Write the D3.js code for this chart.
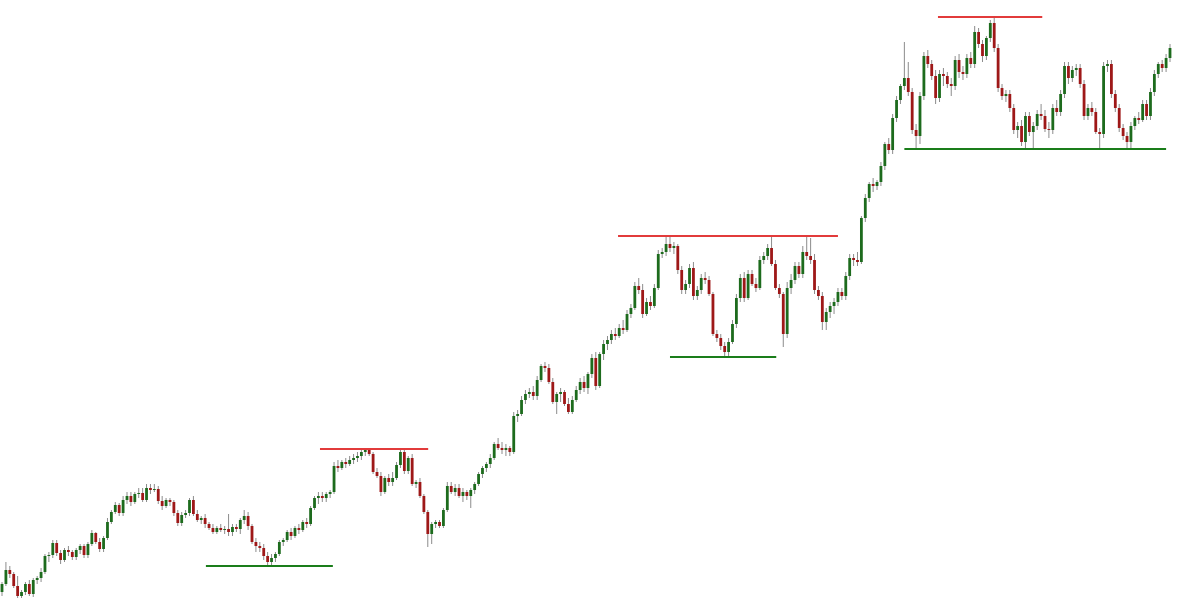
<!DOCTYPE html>
<html>
<head>
<meta charset="utf-8">
<script src="https://cdn.jsdelivr.net/npm/d3@7"></script>
<style>
  html, body { margin: 0; padding: 0; background: #fff; }
  .wick { stroke: #8c8c8c; stroke-width: 1; }
</style>
</head>
<body>
<div id="chart"></div>
<script>
/////////////////////////////////////////////////////////
// price data (one entry per candle)
/////////////////////////////////////////////////////////
var open = [
  8,16,30,26,14,4,8,16,6,20,
  22,28,44,45,57,47,40,50,48,43,
  50,54,45,56,67,58,51,62,78,88,
  95,87,100,104,98,106,107,100,112,110,
  111,99,94,100,98,87,77,85,87,100,
  86,80,82,76,72,68,72,70,71,68,
  73,71,80,84,74,58,54,52,44,38,
  42,46,58,60,68,64,72,70,78,76,
  92,102,104,102,106,108,134,132,138,136,
  140,142,144,148,150,146,128,124,108,122,
  118,122,135,148,129,142,116,118,104,88,
  66,76,78,74,90,114,108,112,104,108,
  104,110,116,126,132,136,142,156,152,150,
  152,148,184,186,200,206,208,204,220,234,
  232,218,198,206,208,196,188,200,210,218,
  212,226,242,214,246,256,260,266,264,272,
  270,286,292,314,310,286,298,294,312,346,
  348,356,352,354,330,310,316,332,304,310,
  322,320,306,266,262,254,248,258,276,302,
  322,302,326,316,312,340,344,352,336,312,
  306,266,312,320,334,326,348,344,340,310,
  304,278,288,294,298,308,304,324,342,340,
  338,382,402,416,414,418,434,456,450,482,
  500,514,522,508,470,464,504,544,536,524,
  502,526,524,516,514,540,528,526,542,536,
  568,556,544,562,577,552,512,504,506,492,
  470,474,458,484,468,474,486,484,471,470,
  492,488,506,534,522,530,532,516,484,492,
  488,468,466,534,536,506,492,472,464,458,
  474,482,480,496,484,508,526,536,532,542
]

var high = [
  18,38,34,28,24,10,18,20,22,24,
  32,46,48,60,60,50,52,54,50,52,
  56,56,58,70,68,62,64,82,90,98,
  97,104,108,108,108,112,112,116,116,116,
  114,104,102,102,100,90,88,90,102,104,
  90,84,86,78,76,74,76,74,86,76,
  76,82,90,88,76,62,58,56,48,46,
  48,60,62,70,72,74,76,80,82,94,
  104,108,108,108,110,138,140,140,142,144,
  146,148,150,151,151,148,132,128,124,126,
  128,138,151,151,144,146,120,122,106,90,
  78,80,80,92,118,118,116,116,112,110,
  112,118,128,134,138,146,158,162,158,156,
  154,188,190,204,210,212,214,224,236,238,
  236,222,208,212,210,202,204,214,222,224,
  228,246,248,248,260,264,270,272,276,280,
  290,296,318,322,316,302,304,316,350,352,
  364,364,358,356,334,320,336,338,314,326,
  328,324,308,270,266,258,262,280,306,326,
  328,330,330,322,344,348,356,364,340,316,
  308,318,326,338,338,354,364,362,346,314,
  308,292,298,302,312,312,328,346,346,348,
  384,406,418,422,420,438,458,462,486,504,
  516,558,538,512,476,508,548,550,540,530,
  530,532,528,522,544,546,534,546,548,574,
  572,560,564,580,583,556,516,510,510,496,
  478,480,488,488,478,490,496,490,478,496,
  500,510,538,538,534,536,536,520,496,498,
  492,472,538,540,540,510,496,476,468,478,
  484,488,500,500,512,530,538,540,546,556
]

var low = [
  4,14,22,12,2,2,5,4,3,16,
  18,26,38,42,44,36,38,44,40,40,
  46,42,42,54,56,48,48,60,76,86,
  84,84,96,94,96,102,98,98,106,108,
  96,90,92,94,84,74,74,82,84,84,
  78,76,72,70,66,66,68,66,64,64,
  68,66,76,70,56,48,48,40,34,35,
  38,44,54,58,60,62,66,68,72,74,
  90,96,98,98,102,106,128,130,132,134,
  136,138,140,144,144,126,122,104,106,114,
  114,120,132,126,126,114,112,102,86,53,
  56,72,72,72,88,106,104,102,98,100,
  92,106,114,122,128,132,140,150,146,144,
  144,146,178,184,196,202,200,200,218,228,
  216,196,186,198,194,186,186,198,206,208,
  206,222,210,212,240,250,256,260,262,266,
  268,282,290,306,282,284,290,292,310,342,
  344,348,346,326,306,306,312,300,300,306,
  316,304,264,258,250,244,244,256,272,298,
  298,300,314,308,310,336,340,334,310,302,
  253,262,306,316,322,322,340,336,306,300,
  270,270,282,286,294,300,300,320,334,334,
  336,378,398,408,410,414,430,446,446,478,
  496,510,504,466,452,456,500,532,520,496,
  498,514,512,504,510,522,520,522,532,532,
  552,538,540,558,548,508,500,498,488,466,
  462,454,452,464,452,470,480,468,462,466,
  484,484,502,516,518,524,512,480,480,484,
  466,452,462,528,502,488,468,460,452,452,
  470,476,478,480,480,504,522,528,528,538
]

var close = [
  16,30,26,14,4,8,16,6,20,22,
  28,44,45,57,47,40,50,48,43,50,
  54,45,56,67,58,51,62,78,88,95,
  87,100,104,98,106,107,100,112,110,111,
  99,94,100,98,87,77,85,87,100,86,
  80,82,76,72,68,72,70,71,68,73,
  71,80,84,74,58,54,52,44,38,42,
  46,58,60,68,64,72,70,78,76,92,
  102,104,102,106,108,134,132,138,136,140,
  142,144,148,150,146,128,124,108,122,118,
  122,135,148,129,142,116,118,104,88,66,
  76,78,74,90,114,108,112,104,108,104,
  110,116,126,132,136,142,156,152,150,152,
  148,184,186,200,206,208,204,220,234,232,
  218,198,206,208,196,188,200,210,218,212,
  226,242,214,246,256,260,266,264,272,270,
  286,292,314,310,286,298,294,312,346,348,
  356,352,354,330,310,316,332,304,310,322,
  320,306,266,262,254,248,258,276,302,322,
  302,326,316,312,340,344,352,336,312,306,
  266,312,320,334,326,348,344,340,310,304,
  278,288,294,298,308,304,324,342,340,338,
  382,402,416,414,418,434,456,450,482,500,
  514,522,508,470,464,504,544,536,524,502,
  526,524,516,514,540,528,526,542,536,568,
  556,544,562,577,552,512,504,506,492,470,
  474,458,484,468,474,486,484,471,470,492,
  488,506,534,522,530,532,516,484,492,488,
  468,466,534,536,506,492,472,464,458,474,
  482,480,496,484,508,526,536,532,542,552
]

// support / resistance levels: price, first and last candle index
var levelPrice = [34, 151, 243, 364, 451, 583]
var levelFrom  = [52.2, 81.4, 171, 157.7, 231, 239.6]
var levelTo    = [84.7, 109.1, 198.2, 214, 298, 266.3]
var levelKind  = ["support", "resistance", "support", "resistance", "support", "resistance"]

/////////////////////////////////////////////////////////
//
//
/////////////////////////////////////////////////////////
var width = 1200,
    height = 600;

var data = open.map(function (o, i) {
  return { i: i, o: o, h: high[i], l: low[i], c: close[i] };
});

var levels = levelPrice.map(function (p, k) {
  return { p: p, from: levelFrom[k], to: levelTo[k], kind: levelKind[k] };
});

var x = d3.scaleLinear()
          .domain([0, data.length - 1])
          .range([2, 1170]);

var y = d3.scaleLinear()
          .domain([0, 600])
          .range([height, 0]);

var bodyW = 2.8;

var svg = d3.select("#chart").append("svg")
    .attr("width", width)
    .attr("height", height);

// wicks
svg.selectAll(".wick")
    .data(data)
  .enter().append("line")
    .attr("class", "wick")
    .attr("x1", function (d) { return x(d.i); })
    .attr("x2", function (d) { return x(d.i); })
    .attr("y1", function (d) { return y(d.h); })
    .attr("y2", function (d) { return y(d.l); });

// bodies
svg.selectAll(".body")
    .data(data)
  .enter().append("rect")
    .attr("class", "body")
    .attr("x", function (d) { return x(d.i) - bodyW / 2; })
    .attr("width", bodyW)
    .attr("y", function (d) { return y(Math.max(d.o, d.c)); })
    .attr("height", function (d) { return Math.max(1, Math.abs(y(d.o) - y(d.c))); })
    .attr("fill", function (d) { return d.c >= d.o ? "#1d6b1d" : "#9e1818"; });

// levels
svg.selectAll(".level")
    .data(levels)
  .enter().append("line")
    .attr("class", "level")
    .attr("x1", function (d) { return x(d.from); })
    .attr("x2", function (d) { return x(d.to); })
    .attr("y1", function (d) { return y(d.p); })
    .attr("y2", function (d) { return y(d.p); })
    .attr("stroke", function (d) { return d.kind === "support" ? "#1a7d1a" : "#e23b3b"; })
    .attr("stroke-width", 2);
</script>
</body>
</html>
